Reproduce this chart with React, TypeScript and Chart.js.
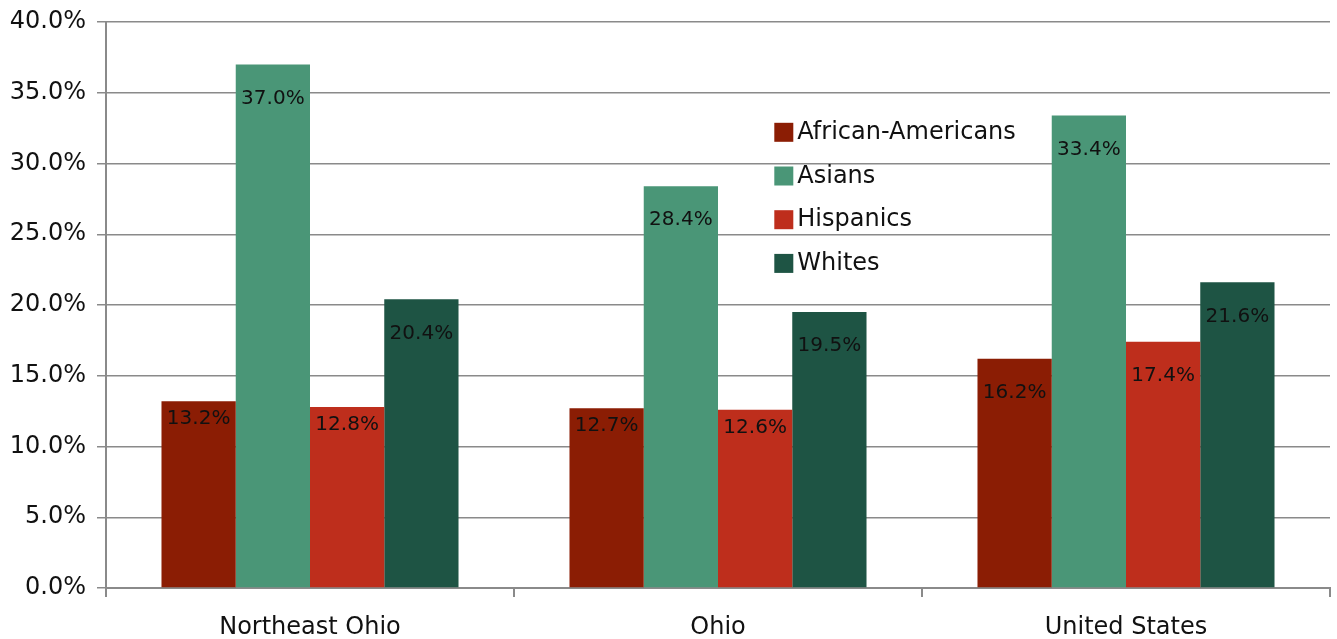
import React, { useEffect, useRef } from "react";
import { Chart, registerables } from "chart.js";

Chart.register(...registerables);

const categories = ["Northeast Ohio", "Ohio", "United States"];
const seriesNames = ["African-Americans", "Asians", "Hispanics", "Whites"];
const africanAmericans = [13.2, 12.7, 16.2];
const asians = [37.0, 28.4, 33.4];
const hispanics = [12.8, 12.6, 17.4];
const whites = [20.4, 19.5, 21.6];
const seriesColors = ["#8B1D04", "#4A9677", "#BE2E1C", "#1E5444"];
const yTicks = [0, 5, 10, 15, 20, 25, 30, 35, 40];

const FONT = "'DejaVu Sans', sans-serif";
const AXIS_COLOR = "#8a8a8a";

const labelPlugin = {
  id: "barLabels",
  afterDatasetsDraw(chart: any) {
    const ctx = chart.ctx;
    ctx.save();
    ctx.font = `20px ${FONT}`;
    ctx.fillStyle = "#111";
    ctx.textAlign = "center";
    ctx.textBaseline = "middle";
    chart.data.datasets.forEach((ds: any, i: number) => {
      const meta = chart.getDatasetMeta(i);
      meta.data.forEach((el: any, j: number) => {
        const v = ds.data[j];
        const off = v >= 15 ? 34 : 18;
        ctx.fillText(v.toFixed(1) + "%", el.x, el.y + off);
      });
    });
    ctx.restore();
  },
};

const legendPlugin = {
  id: "insideLegend",
  afterDraw(chart: any) {
    const ctx = chart.ctx;
    const area = chart.chartArea;
    const x0 = area.left + (area.right - area.left) * 0.546;
    const y0 = area.top + (area.bottom - area.top) * 0.194;
    const gap = 43.7;
    ctx.save();
    ctx.font = `24px ${FONT}`;
    ctx.textAlign = "left";
    ctx.textBaseline = "middle";
    chart.data.datasets.forEach((ds: any, i: number) => {
      const y = y0 + i * gap;
      ctx.fillStyle = ds.backgroundColor;
      ctx.fillRect(x0, y - 9, 19, 19);
      ctx.fillStyle = "#111";
      ctx.fillText(ds.label, x0 + 23, y + 1);
    });
    ctx.restore();
  },
};

export default function App() {
  const ref = useRef<HTMLCanvasElement | null>(null);
  useEffect(() => {
    document.body.style.margin = "0";
    const seriesValues = [africanAmericans, asians, hispanics, whites];
    const chart = new Chart(ref.current as HTMLCanvasElement, {
      type: "bar",
      data: {
        labels: categories,
        datasets: seriesNames.map((name, i) => ({
          label: name,
          data: seriesValues[i],
          backgroundColor: seriesColors[i],
          borderWidth: 0,
          categoryPercentage: 0.728,
          barPercentage: 1.0,
        })),
      },
      options: {
        animation: false,
        responsive: false,
        maintainAspectRatio: false,
        layout: { padding: { top: 22, right: 7, left: 0, bottom: 0 } },
        plugins: {
          legend: { display: false },
          tooltip: { enabled: false },
        },
        scales: {
          x: {
            grid: {
              display: true,
              drawOnChartArea: false,
              drawTicks: true,
              tickLength: 9,
              color: AXIS_COLOR,
              lineWidth: 2,
              offset: true,
            },
            border: { display: true, color: AXIS_COLOR, width: 2 },
            ticks: {
              color: "#111",
              font: { family: FONT, size: 24 },
              padding: 16,
              maxRotation: 0,
            },
            afterFit: (s: any) => {
              s.height = 51;
            },
          },
          y: {
            min: 0,
            max: 40,
            afterBuildTicks: (s: any) => {
              s.ticks = yTicks.map((v) => ({ value: v }));
            },
            grid: {
              display: true,
              drawOnChartArea: true,
              drawTicks: true,
              tickLength: 9,
              color: AXIS_COLOR,
              lineWidth: 1.5,
            },
            border: { display: true, color: AXIS_COLOR, width: 2 },
            ticks: {
              color: "#111",
              font: { family: FONT, size: 24 },
              padding: 11,
              callback: (v: any) => Number(v).toFixed(1) + "%",
            },
            afterFit: (s: any) => {
              s.width = 106;
              s.paddingTop = 0;
              s.paddingBottom = 0;
            },
          },
        },
      },
      plugins: [labelPlugin, legendPlugin],
    });
    return () => chart.destroy();
  }, []);
  return (
    <div style={{ width: 1337, height: 639 }}>
      <canvas ref={ref} width={1337} height={639} style={{ display: "block" }} />
    </div>
  );
}
